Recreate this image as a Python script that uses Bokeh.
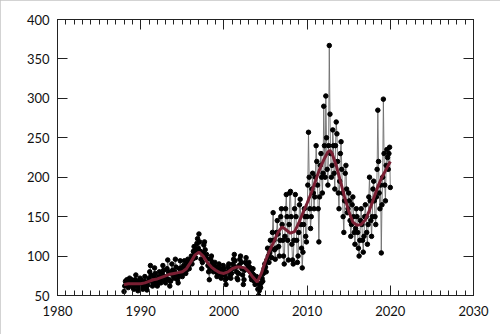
from bokeh.plotting import figure
from bokeh.models import LinearAxis, SingleIntervalTicker, Range1d, ColumnDataSource
from bokeh.embed import file_html
from bokeh.resources import INLINE

start_year = 1988
values = [
    55, 62, 68, 64, 70, 66, 60, 63, 72, 68, 65, 70,          # 1988
    66, 60, 58, 64, 70, 76, 68, 62, 56, 60, 66, 72,          # 1989
    70, 64, 60, 58, 62, 68, 74, 66, 60, 57, 63, 68,          # 1990
    72, 80, 88, 76, 68, 62, 66, 74, 85, 78, 70, 64,          # 1991
    62, 68, 74, 80, 72, 66, 70, 78, 88, 82, 74, 68,          # 1992
    66, 72, 84, 95, 80, 70, 62, 68, 78, 90, 82, 75,          # 1993
    72, 80, 96, 86, 76, 70, 66, 74, 84, 94, 85, 78,          # 1994
    74, 80, 88, 94, 86, 78, 82, 90, 96, 88, 84, 92,          # 1995
    95, 100, 90, 96, 106, 112, 104, 98, 108, 116, 122, 110,  # 1996
    128, 118, 106, 96, 84, 92, 104, 114, 118, 108, 98, 102,  # 1997
    96, 88, 80, 70, 84, 96, 100, 92, 86, 80, 88, 92,         # 1998
    86, 80, 74, 78, 86, 90, 84, 78, 72, 76, 82, 88,          # 1999
    84, 76, 70, 64, 72, 80, 86, 90, 82, 76, 72, 78,          # 2000
    84, 90, 96, 102, 94, 86, 80, 72, 70, 78, 88, 96,         # 2001
    100, 92, 84, 76, 64, 70, 82, 92, 98, 90, 84, 88,         # 2002
    92, 86, 80, 74, 70, 78, 84, 76, 68, 64, 70, 74,          # 2003
    66, 58, 50, 56, 62, 60, 66, 72, 68, 78, 84, 90,          # 2004
    86, 80, 95, 110, 100, 92, 104, 120, 110, 98, 130, 155,   # 2005
    120, 108, 96, 110, 130, 145, 128, 112, 100, 120, 150, 160,  # 2006
    140, 120, 100, 90, 125, 160, 178, 150, 120, 95, 140, 180,   # 2007
    182, 150, 115, 95, 90, 120, 160, 178, 150, 120, 92, 100,    # 2008
    130, 165, 172, 140, 110, 85, 105, 140, 160, 150, 125, 118,  # 2009
    150, 190, 257, 200, 160, 135, 150, 185, 205, 180, 160, 175, # 2010
    200, 240, 220, 190, 160, 118, 175, 215, 230, 200, 180, 205, # 2011
    290, 240, 200, 303, 250, 210, 190, 240, 367, 280, 230, 200, # 2012
    215, 260, 240, 205, 185, 240, 270, 255, 220, 180, 160, 195, # 2013
    230, 245, 210, 180, 150, 130, 170, 205, 215, 185, 155, 160, # 2014
    180, 170, 145, 125, 140, 165, 175, 150, 130, 115, 135, 160, # 2015
    150, 130, 110, 100, 120, 145, 160, 140, 120, 105, 125, 150, # 2016
    165, 150, 130, 115, 140, 175, 200, 170, 145, 125, 150, 185, # 2017
    195, 170, 150, 140, 175, 210, 285, 220, 180, 160, 190, 104, # 2018
    165, 200, 299, 230, 190, 170, 215, 235, 225, 210, 230, 238, # 2019
    187,                                                        # 2020
]

trend_years = [1988, 1988.5, 1989, 1989.5, 1990, 1990.5, 1991, 1991.5, 1992, 1992.5,
               1993, 1993.5, 1994, 1994.5, 1995, 1995.5, 1996, 1996.5, 1997, 1997.5,
               1998, 1998.5, 1999, 1999.5, 2000, 2000.5, 2001, 2001.5, 2002, 2002.5,
               2003, 2003.5, 2004, 2004.5, 2005, 2005.5, 2006, 2006.5, 2007, 2007.5,
               2008, 2008.5, 2009, 2009.5, 2010, 2010.5, 2011, 2011.5, 2012, 2012.5,
               2012.75, 2013, 2013.5, 2014, 2014.5, 2015, 2015.5, 2016, 2016.5, 2017,
               2017.5, 2018, 2018.5, 2019, 2019.5, 2020]
trend_values = [64, 65, 65, 65, 65, 66, 68, 70, 71, 73,
                75, 77, 78, 79, 80, 84, 92, 101, 105, 100,
                92, 86, 82, 79, 78, 80, 84, 86, 86, 85,
                80, 73, 67, 78, 94, 107, 118, 130, 137, 133,
                129, 131, 142, 155, 167, 180, 195, 210, 222, 232,
                234, 230, 215, 195, 175, 157, 143, 139, 140, 146,
                158, 173, 188, 200, 210, 220]

x_ticks_major = 10
y_ticks_major = 50

xs = [start_year + i / 12 for i in range(len(values))]
src = ColumnDataSource(dict(x=xs, y=values))

p = figure(width=500, height=334, output_backend="svg", toolbar_location=None,
           x_range=Range1d(1980, 2030), y_range=Range1d(50, 400),
           min_border_left=57, min_border_right=27, min_border_top=19, min_border_bottom=39,
           x_axis_type=None, y_axis_type=None)
p.styles = {"outline": "2px solid #c4c4c4", "outline-offset": "-2px"}
p.outline_line_color = "#222222"
p.outline_line_width = 1
p.background_fill_color = "white"
p.border_fill_color = "white"

FONT = "Lato"

def make_axis(ticker, labels=True, minor=True):
    ax = LinearAxis(ticker=ticker)
    ax.axis_line_color = "#222222"
    ax.major_tick_in = 10
    ax.major_tick_out = 0
    ax.minor_tick_in = 5 if minor else 0
    ax.minor_tick_out = 0
    ax.major_tick_line_color = "#222222"
    ax.minor_tick_line_color = "#222222"
    if labels:
        ax.major_label_text_font = FONT
        ax.major_label_text_font_size = "13px"
        ax.major_label_text_color = "#111111"
    else:
        ax.major_label_text_font_size = "0px"
        ax.major_label_text_color = None
        ax.major_label_standoff = 0
    return ax

xt = SingleIntervalTicker(interval=x_ticks_major, num_minor_ticks=10)
yt = SingleIntervalTicker(interval=y_ticks_major, num_minor_ticks=0)

xb = make_axis(xt)
xb.major_label_standoff = 10
yl = make_axis(yt, minor=False)
yl.major_label_standoff = 8
xa = make_axis(SingleIntervalTicker(interval=x_ticks_major, num_minor_ticks=10), labels=False)
yr = make_axis(SingleIntervalTicker(interval=y_ticks_major, num_minor_ticks=0), labels=False, minor=False)

p.add_layout(xb, "below")
p.add_layout(yl, "left")
p.add_layout(xa, "above")
p.add_layout(yr, "right")

p.xgrid.ticker = xt
p.ygrid.ticker = yt
for g in (p.xgrid, p.ygrid):
    g.grid_line_color = "#e6e6e6"
    g.grid_line_dash = "4 4"
    g.grid_line_width = 1

p.line("x", "y", source=src, line_color="#6e6e6e", line_width=0.9)
p.scatter("x", "y", source=src, size=4.5, fill_color="black", line_color="black")
p.line(trend_years, trend_values, line_color="#7a1f33", line_width=3)

open("out.html", "w").write(file_html(p, INLINE))
